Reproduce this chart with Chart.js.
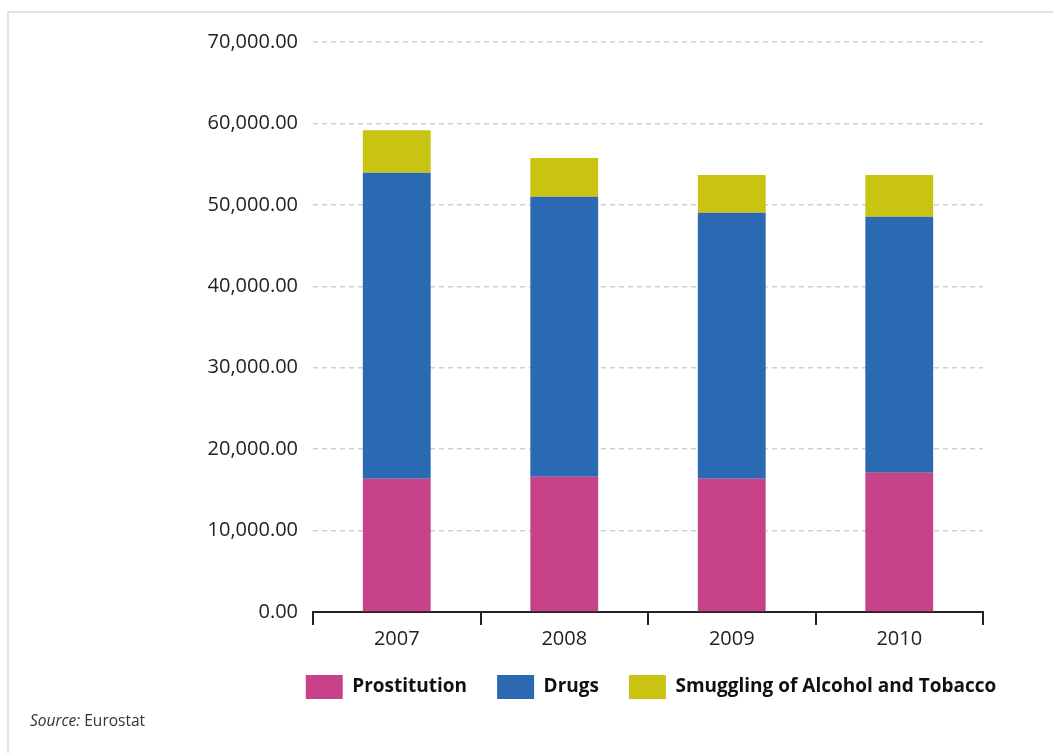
<!DOCTYPE html>
<html>
<head>
<meta charset="utf-8">
<script src="https://cdn.jsdelivr.net/npm/chart.js@4/dist/chart.umd.min.js"></script>
<style>
  body { margin: 0; background: #fff; }
  #wrap { position: relative; width: 1053px; height: 753px; overflow: hidden; }
  #frame { position: absolute; left: 7px; top: 11px; width: 1060px; height: 760px;
           border-top: 2px solid #e2e2e2; border-left: 2px solid #e2e2e2; }
  #source { position: absolute; left: 30px; top: 709px; font: 15.5px "Open Sans", sans-serif; color: #333; }
  canvas { position: absolute; left: 0; top: 0; }
</style>
</head>
<body>
<div id="wrap">
  <div id="frame"></div>
  <canvas id="chart" width="1053" height="753"></canvas>
  <div id="source"><i>Source:</i> Eurostat</div>
</div>
<script>
// values (EUR million)
const years = ['2007', '2008', '2009', '2010']
const prostitution = [16350, 16600, 16350, 17090]
const drugs = [37590, 34400, 32690, 31460]
const smuggling = [5235, 4740, 4620, 5110]

const yMin = 0
const yMax = 70000
const yStep = 10000

const fontFamily = '"Open Sans", sans-serif'

function dataset(label, data, color) {
  return {
    label,
    data,
    backgroundColor: color,
    borderWidth: 0,
    categoryPercentage: 1,
    barPercentage: 0.405
  }
}

// the legend sits centred under the plot area, not under the whole canvas
const legendShift = {
  id: 'legendShift',
  afterLayout(chart) {
    const lg = chart.legend
    const mid = (chart.chartArea.left + chart.chartArea.right) / 2 + 3
    const dx = mid - (lg.left + lg.right) / 2
    lg.left += dx
    lg.right += dx
  }
}

new Chart(document.getElementById('chart'), {
  type: 'bar',
  data: {
    labels: years,
    datasets: [
      dataset('Prostitution', prostitution, '#c8428a'),
      dataset('Drugs', drugs, '#2b6ab2'),
      dataset('Smuggling of Alcohol and Tobacco', smuggling, '#c9c412')
    ]
  },
  plugins: [legendShift],
  options: {
    responsive: false,
    devicePixelRatio: 1,
    animation: false,
    layout: { padding: { top: 42, right: 70, left: 0, bottom: 44 } },
    plugins: {
      tooltip: { enabled: false },
      legend: {
        position: 'bottom',
        labels: {
          boxWidth: 37,
          boxHeight: 24,
          padding: 30,
          color: '#111',
          font: { family: fontFamily, size: 19, weight: 'bold' }
        }
      }
    },
    scales: {
      x: {
        stacked: true,
        offset: true,
        grid: {
          offset: true,
          drawOnChartArea: false,
          drawTicks: true,
          tickLength: 13,
          color: '#222',
          lineWidth: 2
        },
        border: { display: true, color: '#222', width: 2 },
        ticks: { color: '#222', padding: 2, font: { family: fontFamily, size: 20 } },
        afterFit: (scale) => { scale.height = 33 }
      },
      y: {
        stacked: true,
        min: yMin,
        max: yMax,
        grid: { color: '#d0d0d0', lineWidth: 1.5, drawTicks: false },
        border: { display: false, dash: [5, 4] },
        ticks: {
          stepSize: yStep,
          padding: 15,
          color: '#222',
          font: { family: fontFamily, size: 20 },
          callback: (v) => v.toLocaleString('en-US', { minimumFractionDigits: 2, maximumFractionDigits: 2 })
        },
        afterFit: (scale) => { scale.width = 313 }
      }
    }
  }
})
</script>
</body>
</html>
